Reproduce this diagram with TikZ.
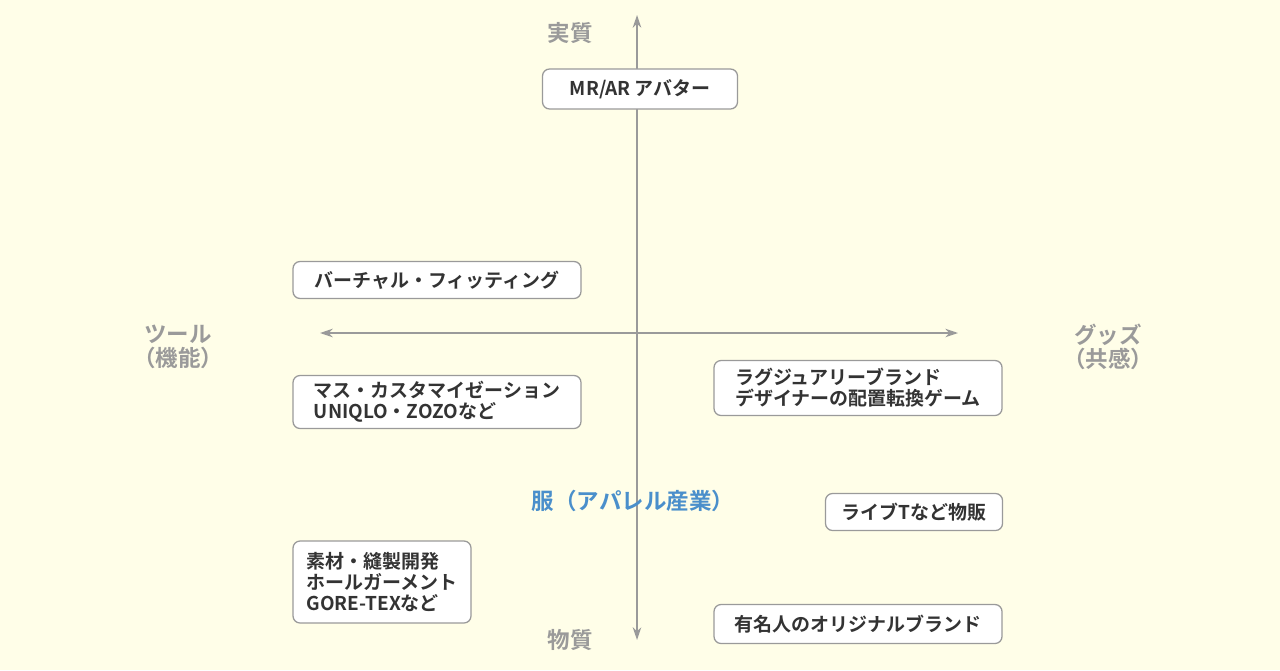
\documentclass[tikz,border=0pt]{standalone}
\usepackage{fontspec}
\setmainfont{Noto Sans CJK JP}[BoldFont={Noto Sans CJK JP Bold}]
\usetikzlibrary{arrows.meta}
\definecolor{bgcream}{HTML}{FFFEE8}
\definecolor{axisgray}{HTML}{9A9A9A}
\definecolor{boxtext}{HTML}{333333}
\definecolor{centerblue}{HTML}{4A8FCB}
\tikzstyle{item} = [draw=axisgray, fill=white, rounded corners=5pt, line width=0.9pt,
    text=boxtext, font=\fontsize{13.5}{15}\selectfont\bfseries, align=left,
    inner xsep=6pt, inner ysep=3pt]
\tikzstyle{axislabel} = [text=axisgray, font=\fontsize{16}{17}\selectfont\bfseries, align=center]

\begin{document}
\begin{tikzpicture}[x=0.025cm, y=-0.025cm]
        \fill[bgcream] (0,0) rectangle (1280,670);
        \useasboundingbox (0,0) rectangle (1280,670);

        % axes
        \coordinate (top) at (637,15);
        \coordinate (bottom) at (637,640);
        \coordinate (left) at (320,333);
        \coordinate (right) at (958,333);
        \draw[axisgray, line width=1.2pt, {Stealth[length=9pt,width=6pt]}-{Stealth[length=9pt,width=6pt]}] (bottom) -- (top);
        \draw[axisgray, line width=1.2pt, {Stealth[length=9pt,width=6pt]}-{Stealth[length=9pt,width=6pt]}] (left) -- (right);

        % axis labels
        \node[axislabel] (jisshitsu) at (570,33) {実質};
        \node[axislabel] (busshitsu) at (570,640) {物質};
        \node[axislabel] (tool) at (178,347) {ツール\\（機能）};
        \node[axislabel] (goods) at (1108,347) {グッズ\\（共感）};

        % items
        \node[item, minimum width=195*0.025cm, minimum height=40*0.025cm] (avatar) at (640,89) {MR/AR アバター};
        \node[item, minimum width=288*0.025cm, minimum height=37*0.025cm] (fitting) at (437,280) {バーチャル・フィッティング};
        \node[item, minimum width=288*0.025cm, minimum height=53*0.025cm] (custom) at (437,402) {マス・カスタマイゼーション\\UNIQLO・ZOZOなど};
        \node[item, minimum width=288*0.025cm, minimum height=55*0.025cm] (luxury) at (858,388) {ラグジュアリーブランド\\デザイナーの配置転換ゲーム};
        \node[item, minimum width=177*0.025cm, minimum height=37*0.025cm] (live) at (914,512) {ライブTなど物販};
        \node[item, minimum width=178*0.025cm, minimum height=82*0.025cm] (material) at (382,582) {素材・縫製開発\\ホールガーメント\\GORE-TEXなど};
        \node[item, minimum width=288*0.025cm, minimum height=39*0.025cm] (celeb) at (858,624) {有名人のオリジナルブランド};

        \node[text=centerblue, font=\fontsize{16}{17}\selectfont\bfseries] (apparel) at (633,501) {服（アパレル産業）};
    \end{tikzpicture}
\end{document}
